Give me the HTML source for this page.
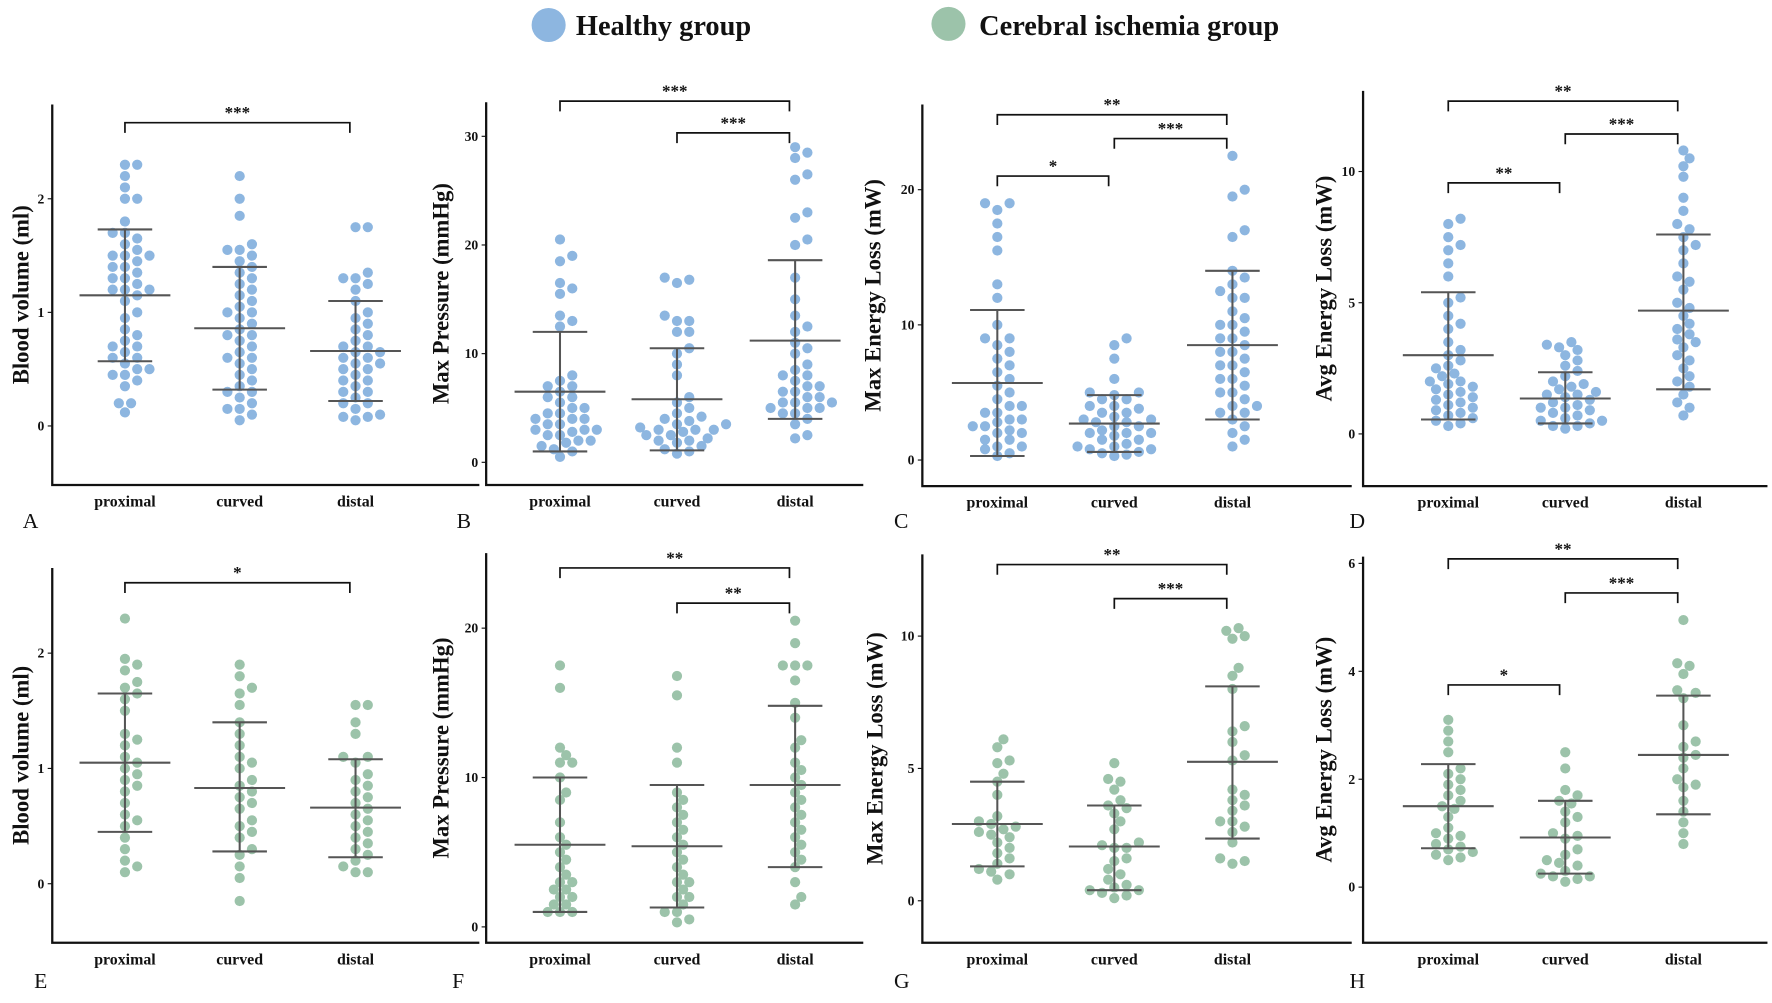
<!DOCTYPE html>
<html><head><meta charset="utf-8"><style>
html,body{margin:0;padding:0;background:#fff;width:1772px;height:1003px;overflow:hidden}
svg{display:block}
text{font-family:"Liberation Serif","DejaVu Serif",serif;font-weight:bold;fill:#111}
</style></head><body>
<svg id="chart" width="1772" height="1003" viewBox="0 0 1560 883">
<g>
<circle cx="483" cy="22" r="15" fill="#8db6e0"/>
<text x="507" y="31" font-size="25">Healthy group</text>
<circle cx="835" cy="21" r="15" fill="#9cc3aa"/>
<text x="862" y="31" font-size="25">Cerebral ischemia group</text>
</g>
</svg>
<script>
const categories=["proximal","curved","distal"];
// Panel A
const aProx=[2.3,2.3,2.2,2.1,2.0,2.0,1.8,1.7,1.7,1.65,1.6,1.55,1.5,1.5,1.5,1.45,1.4,1.4,1.35,1.3,1.3,1.25,1.2,1.2,1.2,1.15,1.1,1.0,0.95,0.85,0.8,0.75,0.7,0.7,0.65,0.6,0.6,0.55,0.5,0.5,0.45,0.45,0.4,0.35,0.2,0.2,0.12];
const aCurv=[2.2,2.0,1.85,1.6,1.55,1.55,1.5,1.45,1.4,1.35,1.3,1.25,1.2,1.15,1.1,1.05,1.0,1.0,0.95,0.9,0.85,0.8,0.8,0.75,0.7,0.65,0.6,0.6,0.55,0.5,0.45,0.4,0.35,0.3,0.3,0.25,0.2,0.15,0.15,0.1,0.05];
const aDist=[1.75,1.75,1.35,1.3,1.3,1.25,1.2,1.1,1.0,0.95,0.9,0.85,0.8,0.75,0.7,0.7,0.65,0.65,0.6,0.6,0.55,0.55,0.5,0.5,0.45,0.4,0.4,0.35,0.3,0.3,0.25,0.2,0.2,0.15,0.1,0.08,0.08,0.05];
const aStats=[[1.15,0.57,1.73],[0.86,0.32,1.4],[0.66,0.22,1.1]];
// Panel B
const bProx=[20.5,19,18.5,16.5,16,15.5,13.5,13,12.5,8,7.5,7,7,6.5,6,6,5.5,5,5,4.5,4.5,4,4,4,3.5,3.5,3,3,3,2.8,2.5,2.5,2,2,1.8,1.5,1.2,1,0.5];
const bCurv=[17,16.8,16.5,13.5,13,13,12,12,10.5,10,9,8,6,5.5,5,4.5,4.2,4,3.8,3.5,3.5,3.2,3,3,3,2.8,2.5,2.5,2.2,2,2,1.8,1.5,1.2,1,0.8];
const bDist=[29,28.5,28,26.5,26,23,22.5,20.5,20,17,15,13.5,12.5,12,11,10.5,10,9,8.5,8,8,7.5,7,7,6.5,6.5,6,6,5.5,5.5,5.5,5,5,5,4.5,4.5,4,3.5,2.5,2.2];
const bStats=[[6.5,1,12],[5.8,1.1,10.5],[11.2,4,18.6]];
// Panel C
const cProx=[19,19,18.5,17.5,16.5,15.5,13,12,10,9,9,8.5,8,7.5,7,6.5,6,5.5,5,4.5,4,4,3.5,3.5,3,3,2.8,2.5,2.5,2.2,2,2,1.5,1.5,1,1,0.8,0.5,0.3];
const cCurv=[9,8.5,7.5,6,5,5,4.8,4.5,4.5,4,4,3.8,3.5,3.5,3.2,3,3,2.8,2.8,2.5,2.5,2.2,2,2,2,1.8,1.5,1.5,1.2,1,1,0.8,0.8,0.6,0.5,0.4,0.3];
const cDist=[22.5,20,19.5,17,16.5,14,13.5,13,12.5,12,12,11,10.5,10,10,9.5,9,9,8.5,8,8,7.5,7,7,6.5,6,6,5.5,5,5,4.5,4,4,3.5,3.5,3,2.5,2,1.5,1];
const cStats=[[5.7,0.3,11.1],[2.7,0.6,4.8],[8.5,3,14]];
// Panel D
const dProx=[8.2,8,7.5,7.2,7,6.5,6,5.2,5,4.5,4.2,4,3.5,3.2,3,2.8,2.6,2.5,2.3,2.2,2,2,1.9,1.8,1.7,1.6,1.5,1.4,1.3,1.2,1.1,1,0.9,0.8,0.7,0.6,0.5,0.4,0.3];
const dCurv=[3.5,3.4,3.3,3.2,3,2.8,2.6,2.4,2.2,2,1.9,1.8,1.7,1.6,1.5,1.5,1.4,1.3,1.2,1.1,1,1,0.9,0.8,0.7,0.6,0.5,0.5,0.4,0.3,0.3,0.2];
const dDist=[10.8,10.5,10.2,9.8,9,8.5,8,7.8,7.5,7.2,7,6.5,6,5.8,5.5,5,4.8,4.5,4.2,4,3.8,3.6,3.5,3.3,3,2.8,2.5,2.2,2,1.8,1.5,1.2,1,0.7];
const dStats=[[3.0,0.55,5.4],[1.35,0.4,2.35],[4.7,1.7,7.6]];
// Panel E
const eProx=[2.3,1.95,1.9,1.85,1.75,1.7,1.65,1.6,1.5,1.3,1.25,1.2,1.1,1.05,1.0,0.95,0.9,0.85,0.8,0.7,0.6,0.55,0.5,0.4,0.3,0.2,0.15,0.1];
const eCurv=[1.9,1.8,1.7,1.65,1.55,1.4,1.3,1.2,1.1,1.05,1.0,0.9,0.85,0.8,0.75,0.7,0.65,0.55,0.5,0.45,0.4,0.3,0.25,0.15,0.05,-0.15];
const eDist=[1.55,1.55,1.4,1.3,1.1,1.1,1.05,0.95,0.9,0.85,0.8,0.75,0.7,0.65,0.6,0.55,0.5,0.45,0.4,0.35,0.3,0.25,0.2,0.15,0.1,0.1];
const eStats=[[1.05,0.45,1.65],[0.83,0.28,1.4],[0.66,0.23,1.08]];
// Panel F
const fProx=[17.5,16,12,11.5,11,11,10,9,8.5,7,6,5.5,5,4.5,4,3.5,3,3,2.5,2.5,2,2,1.5,1.5,1,1,1];
const fCurv=[16.8,15.5,12,11,9,8.5,8,7.5,7,6.5,6,5.5,5,4.5,4,3.5,3,3,2.5,2,2,1.5,1,1,0.5,0.3];
const fDist=[20.5,19,17.5,17.5,17.5,16.5,15,14,12.5,12,11,10.5,10,9.5,9,8.5,8,7.5,7,6.5,6,5.5,5,4.5,4,3,2,1.5];
const fStats=[[5.5,1,10],[5.4,1.3,9.5],[9.5,4,14.8]];
// Panel G
const gProx=[6.1,5.8,5.3,5.2,4.8,4.5,4.0,3.2,3.0,2.9,2.8,2.7,2.6,2.5,2.4,2.2,2.0,1.8,1.6,1.4,1.2,1.1,1.0,0.8];
const gCurv=[5.2,4.6,4.5,4.2,3.8,3.6,3.5,3.3,3.0,2.7,2.2,2.1,2.0,2.0,1.6,1.5,1.2,1.0,0.8,0.6,0.5,0.4,0.4,0.3,0.2,0.1];
const gDist=[10.3,10.2,10.0,9.9,8.8,8.5,8.0,6.6,6.4,6.0,5.5,5.3,4.2,4.0,3.8,3.6,3.4,3.0,3.0,2.8,2.6,2.2,1.6,1.5,1.4];
const gStats=[[2.9,1.3,4.5],[2.05,0.4,3.6],[5.25,2.35,8.1]];
// Panel H
const hProx=[3.1,2.9,2.7,2.5,2.2,2.1,2.0,1.9,1.8,1.7,1.6,1.5,1.45,1.3,1.1,1.0,0.95,0.9,0.8,0.75,0.7,0.65,0.6,0.55,0.5];
const hCurv=[2.5,2.2,1.8,1.7,1.6,1.55,1.4,1.3,1.2,1.0,0.95,0.9,0.7,0.6,0.5,0.45,0.4,0.3,0.25,0.2,0.2,0.15,0.1];
const hDist=[4.95,4.15,4.1,3.95,3.65,3.6,3.5,3.0,2.7,2.6,2.45,2.4,2.2,2.0,1.9,1.85,1.6,1.4,1.2,1.0,0.8];
const hStats=[[1.5,0.72,2.28],[0.92,0.25,1.6],[2.45,1.35,3.55]];
const ticksA=[0,1,2],ticksB=[0,10,20,30],ticksC=[0,10,20],ticksD=[0,5,10];
const ticksE=[0,1,2],ticksF=[0,10,20],ticksG=[0,5,10],ticksH=[0,2,4,6];
const titles=["Blood volume  (ml)","Max Pressure (mmHg)","Max Energy Loss (mW)","Avg Energy Loss (mW)"];

const panels=[
 {id:"A",title:titles[0],data:[aProx,aCurv,aDist],stats:aStats,ticks:ticksA,x0:46,x1:422,top:92,base:427,y0:375,v1:2,y1:175,cats:[110,211,313],titleX:18,col:"#8db6e0",lx:20,ly:465,
  br:[[0,2,108,"***"]]},
 {id:"B",title:titles[1],data:[bProx,bCurv,bDist],stats:bStats,ticks:ticksB,x0:428,x1:760,top:90,base:427,y0:407,v1:30,y1:120,cats:[493,596,700],titleX:388,col:"#8db6e0",lx:402,ly:465,
  br:[[0,2,89,"***"],[1,2,117,"***"]]},
 {id:"C",title:titles[2],data:[cProx,cCurv,cDist],stats:cStats,ticks:ticksC,x0:812,x1:1190,top:92,base:428,y0:405,v1:20,y1:167,cats:[878,981,1085],titleX:768,col:"#8db6e0",lx:787,ly:465,
  br:[[0,2,101,"**"],[0,1,155,"*"],[1,2,122,"***"]]},
 {id:"D",title:titles[3],data:[dProx,dCurv,dDist],stats:dStats,ticks:ticksD,x0:1200,x1:1556,top:80,base:428,y0:382,v1:10,y1:151,cats:[1275,1378,1482],titleX:1165,col:"#8db6e0",lx:1188,ly:465,
  br:[[0,2,89,"**"],[0,1,161,"**"],[1,2,118,"***"]]},
 {id:"E",title:titles[0],data:[eProx,eCurv,eDist],stats:eStats,ticks:ticksE,x0:46,x1:422,top:500,base:830,y0:778,v1:2,y1:575,cats:[110,211,313],titleX:18,col:"#9cc3aa",lx:30,ly:870,
  br:[[0,2,513,"*"]]},
 {id:"F",title:titles[1],data:[fProx,fCurv,fDist],stats:fStats,ticks:ticksF,x0:428,x1:760,top:487,base:830,y0:816,v1:20,y1:553,cats:[493,596,700],titleX:388,col:"#9cc3aa",lx:398,ly:870,
  br:[[0,2,500,"**"],[1,2,531,"**"]]},
 {id:"G",title:titles[2],data:[gProx,gCurv,gDist],stats:gStats,ticks:ticksG,x0:812,x1:1190,top:488,base:830,y0:793,v1:10,y1:560,cats:[878,981,1085],titleX:770,col:"#9cc3aa",lx:787,ly:870,
  br:[[0,2,497,"**"],[1,2,527,"***"]]},
 {id:"H",title:titles[3],data:[hProx,hCurv,hDist],stats:hStats,ticks:ticksH,x0:1200,x1:1556,top:490,base:830,y0:781,v1:6,y1:496,cats:[1275,1378,1482],titleX:1165,col:"#9cc3aa",lx:1188,ly:870,
  br:[[0,2,492,"**"],[1,2,522,"***"],[0,1,603,"*"]]}
];
const NS="http://www.w3.org/2000/svg";
const svg=document.getElementById("chart");
function mk(tag,attrs,parent){const e=document.createElementNS(NS,tag);for(const k in attrs)e.setAttribute(k,attrs[k]);(parent||svg).appendChild(e);return e;}
const R=4.5;
panels.forEach(p=>{
 const g=mk("g",{});
 
 
 const yS=v=>p.y0+(p.y1-p.y0)*v/p.v1;
 const ax=mk("path",{d:`M${p.x0},${p.top}V${p.base}H${p.x1}`,fill:"none",stroke:"#111","stroke-width":2},g);
 
 
 p.ticks.forEach(t=>{
  const y=yS(t);
  mk("line",{x1:p.x0-4,x2:p.x0,y1:y,y2:y,stroke:"#111","stroke-width":1},g);
  const tl=mk("text",{x:p.x0-7,y:y+4,"font-size":12,"text-anchor":"end"},g);tl.textContent=t;
  
  
 });
 const cy=(p.top+p.base)/2;
 const tt=mk("text",{x:p.titleX,y:cy,"font-size":20,"text-anchor":"middle",transform:`rotate(-90 ${p.titleX} ${cy})`,dy:7},g);
 tt.textContent=p.title;
 
 
 categories.forEach((c,i)=>{
  const cl=mk("text",{x:p.cats[i],y:p.base+19,"font-size":14,"text-anchor":"middle"},g);cl.textContent=c;
  
  
 });
 const lt=mk("text",{x:p.lx,y:p.ly,"font-size":19,style:"font-weight:normal"},g);lt.textContent=p.id;
 
 
 p.data.forEach((vals,i)=>{
  const cx=p.cats[i];const placed=[];
  const sorted=vals.slice().sort((a,b)=>a-b);
  sorted.forEach(v=>{
   const y=yS(v);let x=cx;
   for(let k=0;k<40;k++){
    const off=(k%2?1:-1)*Math.ceil(k/2)*R*1.2;
    const tx=cx+off;
    if(placed.every(q=>(q[0]-tx)**2+(q[1]-y)**2>=(1.85*R)**2)){x=tx;break;}
   }
   placed.push([x,y]);
   const d=mk("circle",{cx:x,cy:y,r:R,fill:p.col},g);
   
   
  });
  const [m,lo,hi]=p.stats[i];
  const eb=mk("path",{d:`M${cx-40},${yS(m)}H${cx+40}M${cx-24},${yS(lo)}H${cx+24}M${cx-24},${yS(hi)}H${cx+24}M${cx},${yS(lo)}V${yS(hi)}`,stroke:"#555","stroke-width":1.8,fill:"none"},g);
  
  
 });
 p.br.forEach(b=>{
  const xa=p.cats[b[0]],xb=p.cats[b[1]]-5,y=b[2];
  const bp=mk("path",{d:`M${xa},${y+9}V${y}H${xb}V${y+9}`,stroke:"#111","stroke-width":1.5,fill:"none"},g);
  
  
  const st=mk("text",{x:(xa+xb)/2,y:y-4,"font-size":15,"text-anchor":"middle"},g);st.textContent=b[3];
  
  
 });
});
</script>
</body></html>
